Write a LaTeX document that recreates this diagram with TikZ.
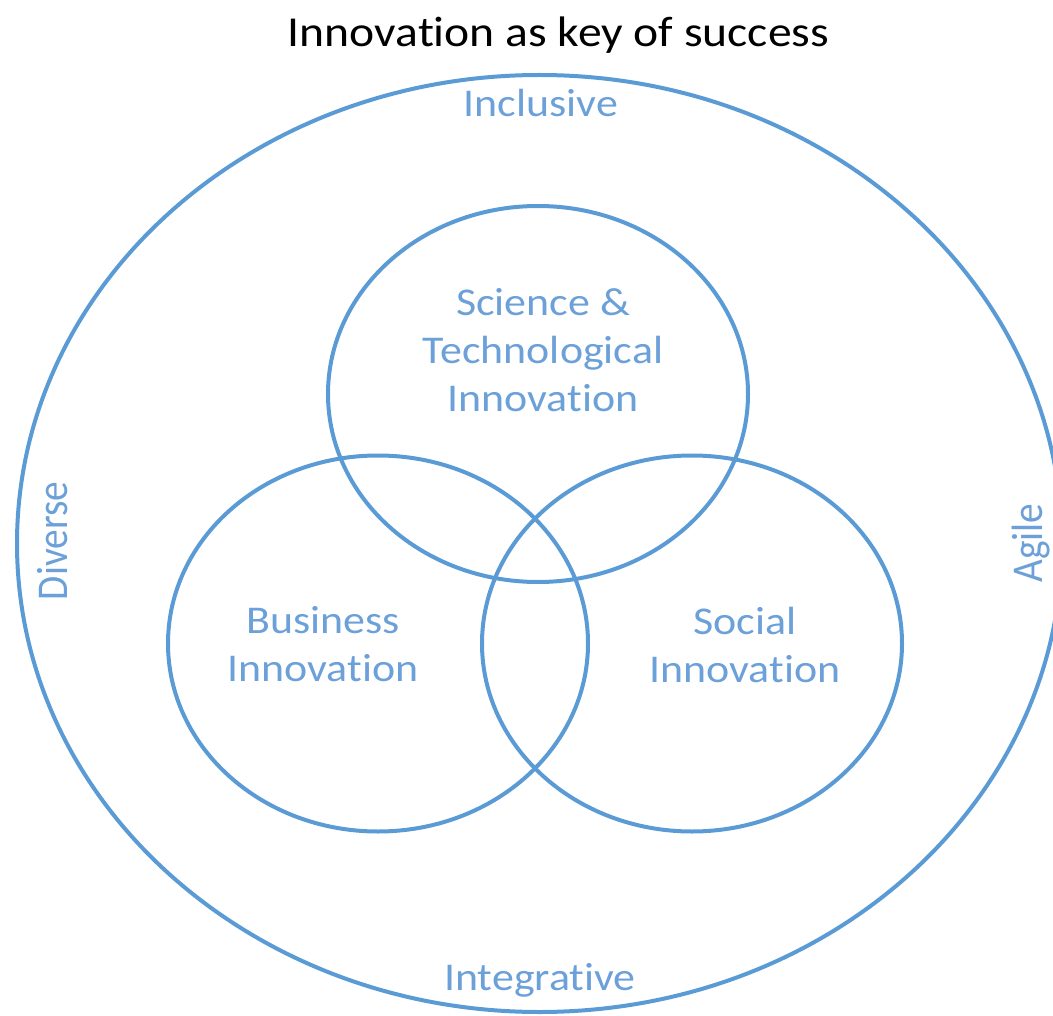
\documentclass[tikz,border=0pt]{standalone}
\usepackage{graphicx}
\usepackage{fontspec}
\setmainfont{Carlito}[FakeStretch=1.116,Ligatures=NoCommon]
\newfontfamily\rotfont{Carlito}[Ligatures=NoCommon]
\usetikzlibrary{shapes.geometric}
\definecolor{ringblue}{RGB}{91,155,213}
\definecolor{labelblue}{RGB}{108,160,217}
\begin{document}
\begin{tikzpicture}[x=0.75pt,y=-0.75pt,
  ring/.style={ellipse, draw=ringblue, line width=3pt, inner sep=0pt, outer sep=0pt},
  lbl/.style={text=labelblue, inner sep=0pt, font=\fontsize{29.5}{36}\selectfont, align=center},
  titlestyle/.style={text=black, inner sep=0pt, font=\fontsize{32}{38}\selectfont}]
\path[use as bounding box, clip] (0,0) rectangle (1053,1016);
\node[ring, minimum width=783.75pt, minimum height=702.75pt] (outer) at (539.5,543.5) {};
\node[ring, minimum width=315pt, minimum height=282pt] (sci) at (538,394) {};
\node[ring, minimum width=315pt, minimum height=282pt] (bus) at (378,643.5) {};
\node[ring, minimum width=315pt, minimum height=282pt] (soc) at (692,643.5) {};
\node[titlestyle, anchor=base] (title) at (558.5,47) {Innovation as key of success};
\node[lbl, anchor=base] (inclusive) at (541,116.5) {Inclusive};
\node[lbl, anchor=base] (integrative) at (540,990.7) {Integrative};
\node[lbl, anchor=base, rotate=90] (diverse) at (67,541) {\scalebox{1}[1.116]{\rotfont Diverse}};
\node[lbl, anchor=base, rotate=90] (agile) at (1042,543) {\scalebox{1}[1.116]{\rotfont Agile}};
\node[lbl] (scitext) at (543,350) {Science \&\\Technological\\Innovation};
\node[lbl] (bustext) at (323,644.5) {Business\\Innovation};
\node[lbl] (soctext) at (745,644.5) {Social\\Innovation};
\end{tikzpicture}
\end{document}
